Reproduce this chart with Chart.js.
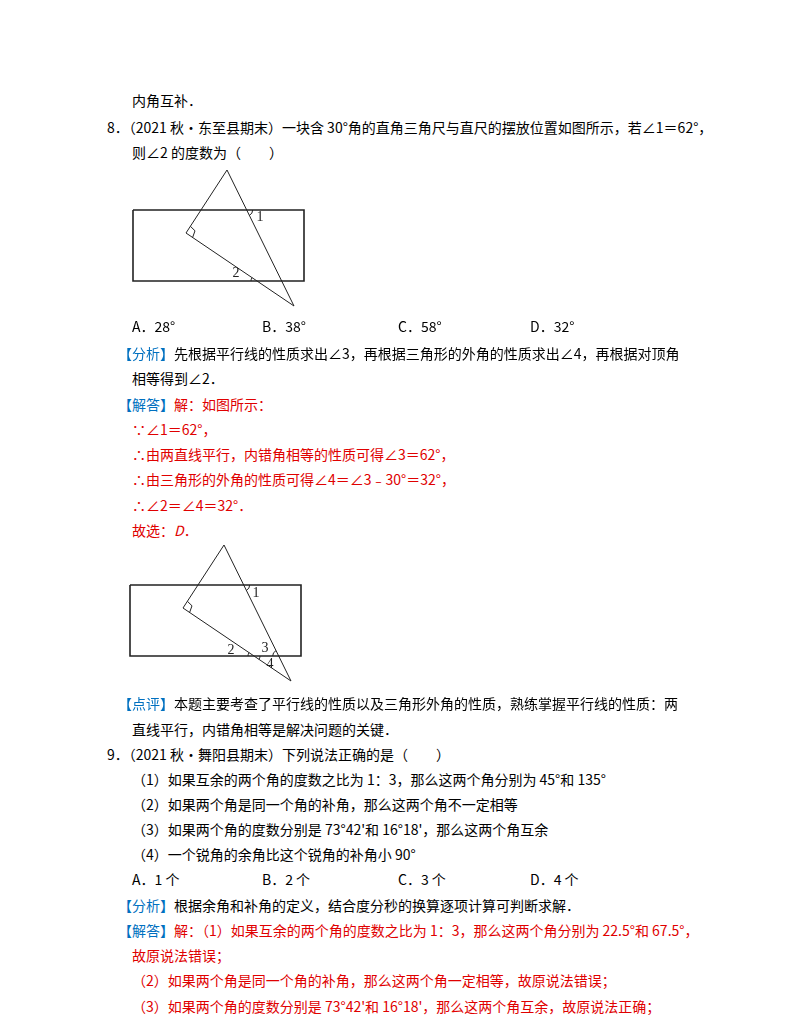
<!DOCTYPE html>
<html><head><meta charset="utf-8">
<script src="https://cdn.jsdelivr.net/npm/chart.js@4/dist/chart.umd.min.js"></script>
<style>
body{margin:0;width:800px;height:1035px;background:#fff;position:relative;overflow:hidden;font-family:"Noto Sans CJK SC","Liberation Serif",serif;}
.t{position:absolute;font-size:14px;line-height:20px;white-space:nowrap;color:#000;}
.r{color:#e00000;}
.b{color:#0070c0;}
.fig{position:absolute;width:200px;height:160px;}
</style></head><body>
<div class="t" style="left:132px;top:90px">内角互补．</div>
<div class="t" style="left:107px;top:117px">8．（2021 秋•东至县期末）一块含 30°角的直角三角尺与直尺的摆放位置如图所示，若∠1＝62°，</div>
<div class="t" style="left:132px;top:142px">则∠2 的度数为（　　）</div>
<div class="fig" style="left:120px;top:160px"><canvas id="fig1"></canvas></div>
<div class="t" style="left:132px;top:316px">A．28°</div>
<div class="t" style="left:262px;top:316px">B．38°</div>
<div class="t" style="left:398px;top:316px">C．58°</div>
<div class="t" style="left:530px;top:316px">D．32°</div>
<div class="t" style="left:118px;top:343px"><span class="b">【分析】</span>先根据平行线的性质求出∠3，再根据三角形的外角的性质求出∠4，再根据对顶角</div>
<div class="t" style="left:132px;top:368px">相等得到∠2．</div>
<div class="t" style="left:118px;top:394px"><span class="b">【解答】</span><span class="r">解：如图所示：</span></div>
<div class="t r" style="left:132px;top:419px">∵∠1＝62°，</div>
<div class="t r" style="left:132px;top:444px">∴由两直线平行，内错角相等的性质可得∠3＝62°，</div>
<div class="t r" style="left:132px;top:469px">∴由三角形的外角的性质可得∠4＝∠3﹣30°＝32°，</div>
<div class="t r" style="left:132px;top:495px">∴∠2＝∠4＝32°．</div>
<div class="t r" style="left:132px;top:520px">故选：<i>D</i>．</div>
<div class="fig" style="left:117px;top:535px"><canvas id="fig2"></canvas></div>
<div class="t" style="left:118px;top:693px"><span class="b">【点评】</span>本题主要考查了平行线的性质以及三角形外角的性质，熟练掌握平行线的性质：两</div>
<div class="t" style="left:132px;top:719px">直线平行，内错角相等是解决问题的关键．</div>
<div class="t" style="left:107px;top:744px">9．（2021 秋•舞阳县期末）下列说法正确的是（　　）</div>
<div class="t" style="left:132px;top:769px">（1）如果互余的两个角的度数之比为 1：3，那么这两个角分别为 45°和 135°</div>
<div class="t" style="left:132px;top:794px">（2）如果两个角是同一个角的补角，那么这两个角不一定相等</div>
<div class="t" style="left:132px;top:819px">（3）如果两个角的度数分别是 73°42'和 16°18'，那么这两个角互余</div>
<div class="t" style="left:132px;top:844px">（4）一个锐角的余角比这个锐角的补角小 90°</div>
<div class="t" style="left:132px;top:869px">A．1 个</div>
<div class="t" style="left:262px;top:869px">B．2 个</div>
<div class="t" style="left:398px;top:869px">C．3 个</div>
<div class="t" style="left:530px;top:869px">D．4 个</div>
<div class="t" style="left:118px;top:895px"><span class="b">【分析】</span>根据余角和补角的定义，结合度分秒的换算逐项计算可判断求解．</div>
<div class="t" style="left:118px;top:920px"><span class="b">【解答】</span><span class="r">解：（1）如果互余的两个角的度数之比为 1：3，那么这两个角分别为 22.5°和 67.5°，</span></div>
<div class="t r" style="left:132px;top:945px">故原说法错误；</div>
<div class="t r" style="left:132px;top:970px">（2）如果两个角是同一个角的补角，那么这两个角一定相等，故原说法错误；</div>
<div class="t r" style="left:132px;top:996px">（3）如果两个角的度数分别是 73°42'和 16°18'，那么这两个角互余，故原说法正确；</div>
<script>
// figure geometry (canvas-local units, y down)
const rulerX = [13, 184, 184, 13, 13];
const rulerY = [50, 50, 121, 121, 50];
const triX = [107, 66, 174, 107];
const triY = [10, 73, 146, 10];
const squareX = [70.4, 75, 72.6];
const squareY = [66.3, 70.8, 77.5];
// arcs: [x, y, startDeg, endDeg]
const arcs1 = [[126.7, 50, 0, 64], [137, 121, 180, 214]];
const arcs2 = [[126.7, 50, 0, 64], [137, 121, 180, 214], [161.7, 121, 180, 244], [137, 121, 0, 34]];
const labels1 = [["1", 140, 57], ["2", 116, 113]];
const labels2 = [["1", 139, 58], ["2", 114, 115], ["3", 148, 113], ["4", 153, 129]];

function pts(xs, ys) { return xs.map((x, i) => ({ x: x, y: ys[i] })); }

function makeFig(id, arcs, labels) {
  let marks = {
    id: "marks",
    afterDatasetsDraw(chart) {
      let c = chart.ctx, sx = chart.scales.x, sy = chart.scales.y;
      c.save();
      c.strokeStyle = "#222"; c.lineWidth = 1;
      for (let a of arcs) {
        c.beginPath();
        c.arc(sx.getPixelForValue(a[0]), sy.getPixelForValue(a[1]), 6, a[2] * Math.PI / 180, a[3] * Math.PI / 180);
        c.stroke();
      }
      c.fillStyle = "#222";
      c.font = "14px 'Liberation Serif', serif";
      c.textAlign = "center"; c.textBaseline = "middle";
      for (let l of labels) c.fillText(l[0], sx.getPixelForValue(l[1]), sy.getPixelForValue(l[2]));
      c.restore();
    }
  };
  let line = (d, w) => ({ data: d, showLine: true, borderColor: "#222", borderWidth: w, pointRadius: 0, tension: 0, fill: false });
  new Chart(document.getElementById(id), {
    type: "scatter",
    data: { datasets: [
      line(pts(rulerX, rulerY), 1.6),
      line(pts(triX, triY), 1),
      line(pts(squareX, squareY), 1)
    ] },
    options: {
      responsive: false, animation: false, events: [],
      layout: { padding: 0 },
      plugins: { legend: { display: false }, tooltip: { enabled: false } },
      scales: {
        x: { type: "linear", min: 0, max: 200, display: false },
        y: { type: "linear", min: 0, max: 160, reverse: true, display: false }
      }
    },
    plugins: [marks]
  });
}
document.getElementById("fig1").width = 200; document.getElementById("fig1").height = 160;
document.getElementById("fig2").width = 200; document.getElementById("fig2").height = 160;
makeFig("fig1", arcs1, labels1);
makeFig("fig2", arcs2, labels2);
</script>
</body></html>
